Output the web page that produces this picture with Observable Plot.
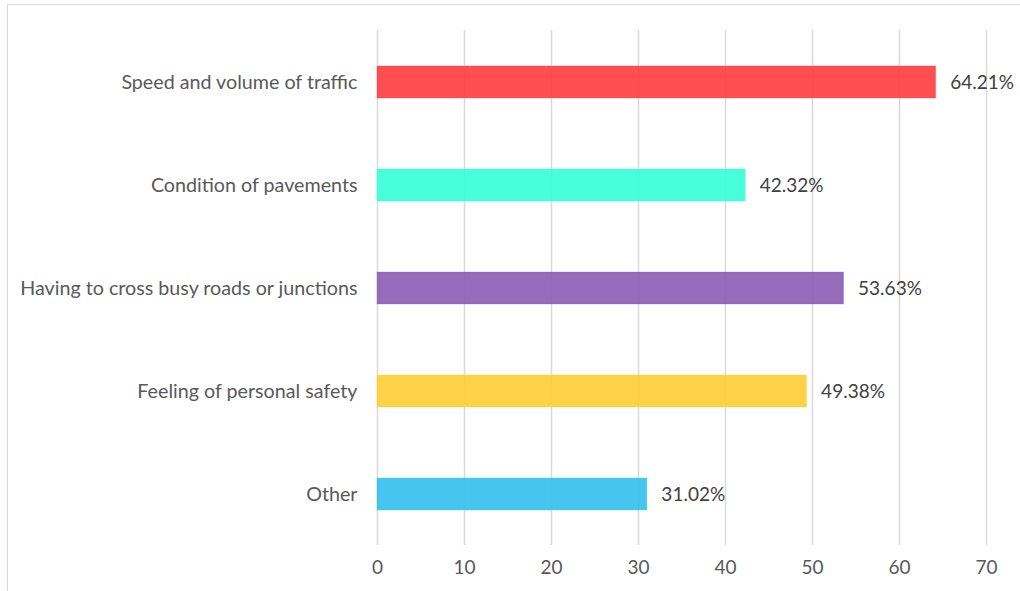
<!DOCTYPE html>
<html>
<head>
<meta charset="utf-8">
<script src="https://cdn.jsdelivr.net/npm/d3@7"></script>
<script src="https://cdn.jsdelivr.net/npm/@observablehq/plot@0.6"></script>
<style>
  html, body { margin: 0; padding: 0; background: #fff; overflow: hidden; width: 1020px; height: 591px; }
  #frame { position: absolute; left: 7px; top: 4px; width: 1200px; height: 800px; border: 1.5px solid #d9d9d9; box-sizing: border-box; }
  #chart { position: absolute; left: 0; top: 0; }
</style>
</head>
<body>
<div id="frame"></div>
<div id="chart"></div>
<script>
const categories = [
  "Speed and volume of traffic",
  "Condition of pavements",
  "Having to cross busy roads or junctions",
  "Feeling of personal safety",
  "Other"
];
const values = [64.21, 42.32, 53.63, 49.38, 31.02];
const colors = ["#ff3b3f", "#33ffd6", "#8c5bb5", "#ffcc33", "#33bff0"];
const xTicks = [0, 10, 20, 30, 40, 50, 60, 70];

const data = categories.map((c, i) => ({category: c, value: values[i], color: colors[i]}));

const chart = Plot.plot({
  width: 1020,
  height: 591,
  marginLeft: 377,
  marginRight: 34,
  marginTop: 30,
  marginBottom: 46,
  style: {fontFamily: "Lato, 'Open Sans', sans-serif", fontSize: "19px", color: "#595959", background: "transparent"},
  x: {domain: [0, 70], ticks: xTicks, label: null},
  y: {domain: categories, paddingInner: 0.69, paddingOuter: 0.345, label: null},
  marks: [
    Plot.gridX(xTicks, {stroke: "#d9d9d9", strokeOpacity: 1, strokeWidth: 1.5}),
    Plot.barX(data, {x: "value", y: "category", fill: "color", fillOpacity: 0.9, stroke: "color", strokeOpacity: 0.3, strokeWidth: 1}),
    Plot.text(data, {x: "value", y: "category", text: d => d.value.toFixed(2) + "%", textAnchor: "start", dx: 14, fill: "#404040", fontSize: 19}),
    Plot.axisX({ticks: xTicks, tickSize: 0, tickPadding: 15, fontSize: 19, fill: "#595959"}),
    Plot.axisY({tickSize: 0, tickPadding: 20, fontSize: 19.7, fill: "#595959"})
  ]
});
document.getElementById("chart").appendChild(chart);
</script>
</body>
</html>
